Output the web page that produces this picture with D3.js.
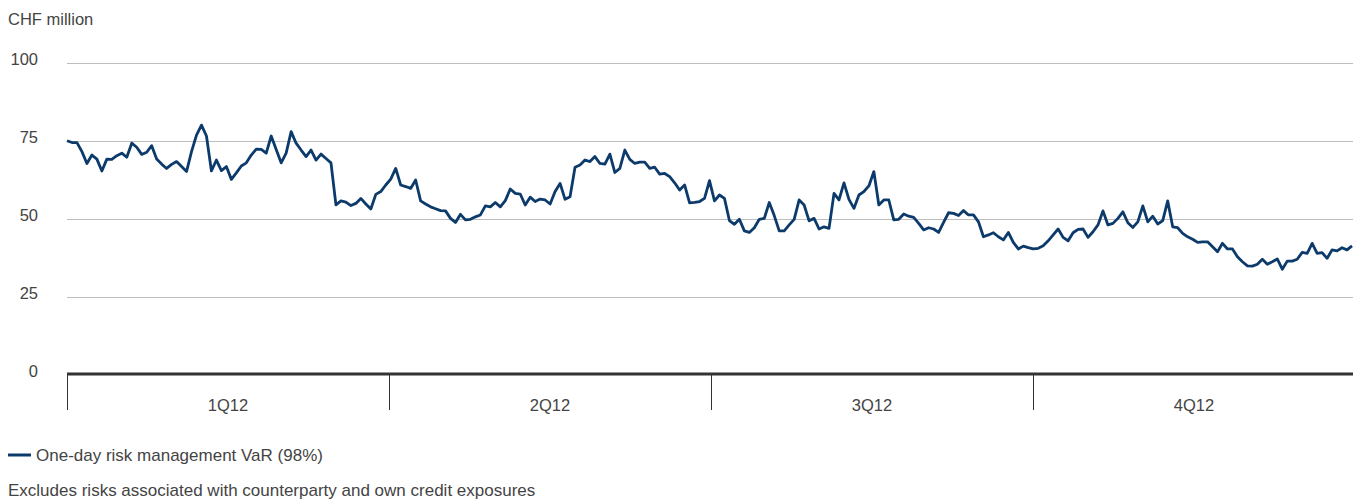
<!DOCTYPE html>
<html>
<head>
<meta charset="utf-8">
<script src="https://cdn.jsdelivr.net/npm/d3@7"></script>
<style>
  html, body { margin: 0; padding: 0; background: #fff; }
  svg { display: block; font-family: "Liberation Sans", Arial, sans-serif; }
</style>
</head>
<body>
<svg id="chart" width="1353" height="501"></svg>
<script>
const quarters = ["1Q12", "2Q12", "3Q12", "4Q12"];
const yTicks = [0, 25, 50, 75, 100];
const seriesName = "One-day risk management VaR (98%)";
const unitLabel = "CHF million";
const footnote = "Excludes risks associated with counterparty and own credit exposures";

const q1Values = [75.1,74.5,74.5,71.6,67.8,70.5,69.2,65.4,69.2,69.1,70.3,71.1,69.8,74.3,73,70.7,71.4,73.5,69.2,67.6,66.2,67.5,68.4,66.8,65.2,71.6,76.9,80.1,76.6,65.4,68.9,65.5,66.8,
  62.7,64.8,67,68,70.5,72.4,72.3,71.1,76.6,72.3,68,71.1,78,74.3,72.1,70,72.1,68.9,70.8,69.4,68,54.5,55.8,55.4,54.3,55,56.6,54.8,53.2,57.9,58.8,60.9,62.8];
const q2Values = [66.2,60.9,60.4,59.8,62.5,55.8,54.8,53.9,53.3,52.7,52.6,50.2,48.9,51.5,49.7,49.9,50.7,51.3,54.2,53.9,55.3,53.9,55.9,59.6,58.2,58,54.5,57,55.6,56.4,56.1,54.8,58.8,61.4,
  56.3,57.1,66.6,67.3,68.9,68.4,70,67.8,67.6,70.8,64.9,66.2,72.1,69.1,67.8,68.2,68.2,66.2,66.6,64.4,64.6,63.6,61.6,59.3,60.9,55.2,55.3,55.6,56.6,62.3,55.8,57.7,56.6];
const q3Values = [49.5,48.3,49.9,46.2,45.7,47.2,49.9,50.2,55.3,51.1,46.2,46.2,48.1,49.9,56.1,54.5,49.4,50.2,46.8,47.5,47,58.2,56.1,61.6,56.3,53.4,57.7,58.8,60.6,65.2,54.5,56.1,56.1,
  49.7,49.9,51.6,50.9,50.5,48.6,46.5,47.2,46.8,45.7,48.9,52,51.8,51.1,52.7,51.3,51.3,49.1,44.3,44.9,45.6,44.3,43.3,45.7,42.5,40.4,41.3,40.8,40.4,40.6,41.4,43,44.9];
const q4Values = [46.8,44.1,43,45.6,46.7,46.8,44.1,45.9,48.1,52.6,48.1,48.6,50.2,52.3,48.8,47.3,49.1,54.2,49.1,50.9,48.4,49.5,55.8,47.5,47.2,45.4,44.3,43.5,42.5,42.7,42.7,41.1,39.5,42.2,
  40.4,40.4,37.9,36.3,35,34.9,35.5,37.1,35.5,36.3,37.2,33.9,36.5,36.5,37.1,39.3,39,42.2,39,39.2,37.4,40.1,39.8,40.8,40.1,41.4];
const varValues = q1Values.concat(q2Values, q3Values, q4Values);

const svg = d3.select("#chart");
const left = 67, right = 1353;
const lineColor = "#0b3a6b";
const textColor = "#444";

const y = d3.scaleLinear().domain([0, 100]).range([375, 63]);
const x = d3.scaleLinear().domain([0, varValues.length - 1]).range([left, right - 1]);
const xq = d3.scaleBand().domain(quarters).range([left, right + 2]);

// gridlines
svg.append("g").selectAll("line").data(yTicks.filter(d => d > 0)).join("line")
  .attr("x1", left).attr("x2", right)
  .attr("y1", d => Math.round(y(d)) + 0.5).attr("y2", d => Math.round(y(d)) + 0.5)
  .attr("stroke", "#bdbdbd").attr("stroke-width", 1);

// y labels
svg.append("g").selectAll("text").data(yTicks).join("text")
  .attr("x", 38).attr("y", d => y(d) + 2)
  .attr("text-anchor", "end")
  .attr("font-size", 16.5).attr("fill", textColor)
  .text(d => d);

svg.append("text").attr("x", 8).attr("y", 25)
  .attr("font-size", 16.5).attr("fill", textColor).text(unitLabel);

// line
const line = d3.line().x((d, i) => x(i)).y(d => y(d)).curve(d3.curveLinear);
svg.append("path").datum(varValues)
  .attr("d", line).attr("fill", "none")
  .attr("stroke", lineColor).attr("stroke-width", 2.8)
  .attr("stroke-linejoin", "round");

// x axis
const xAxis = svg.append("g");
xAxis.selectAll("line.tick").data(quarters).join("line").attr("class", "tick")
  .attr("x1", d => xq(d) + 0.5).attr("x2", d => xq(d) + 0.5)
  .attr("y1", 374).attr("y2", 410)
  .attr("stroke", "#333").attr("stroke-width", 1);
xAxis.append("line")
  .attr("x1", left).attr("x2", right)
  .attr("y1", 374).attr("y2", 374)
  .attr("stroke", "#333").attr("stroke-width", 3);
xAxis.selectAll("text").data(quarters).join("text")
  .attr("x", d => xq(d) + xq.bandwidth() / 2).attr("y", 411)
  .attr("text-anchor", "middle")
  .attr("font-size", 16.5).attr("fill", textColor)
  .text(d => d);

// legend
svg.append("line").attr("x1", 8).attr("x2", 31).attr("y1", 455).attr("y2", 455)
  .attr("stroke", lineColor).attr("stroke-width", 3);
svg.append("text").attr("x", 36).attr("y", 461)
  .attr("font-size", 17).attr("fill", textColor).text(seriesName);

svg.append("text").attr("x", 8).attr("y", 496)
  .attr("font-size", 17).attr("fill", textColor).text(footnote);
</script>
</body>
</html>
